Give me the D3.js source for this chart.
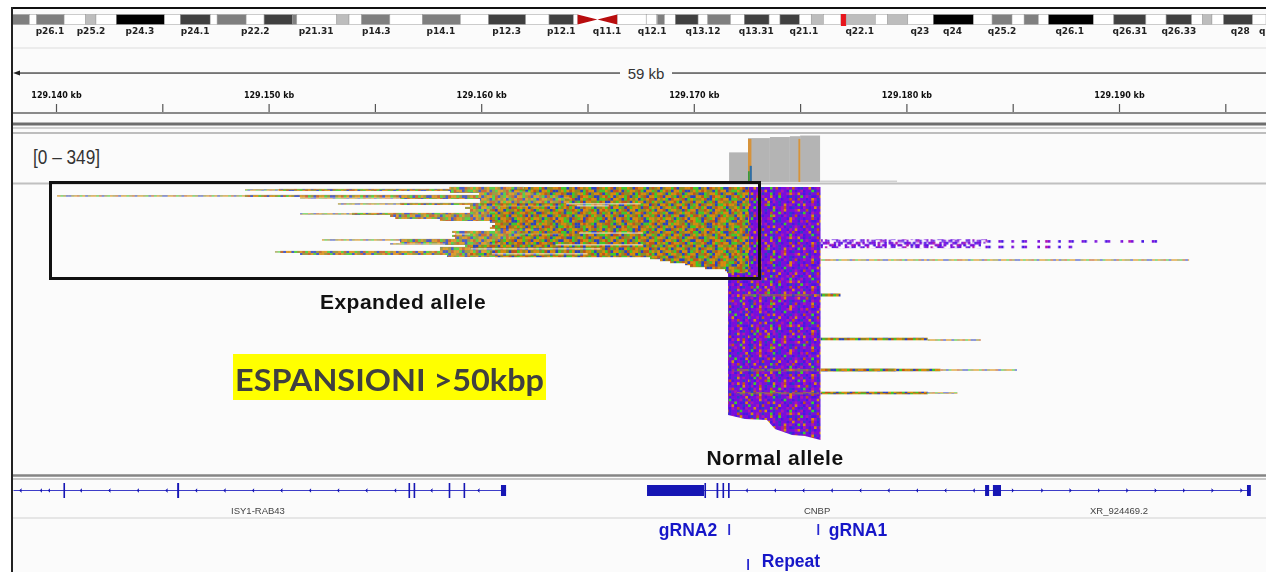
<!DOCTYPE html>
<html><head><meta charset="utf-8">
<script src="https://cdn.jsdelivr.net/npm/d3@7"></script>
<style>html,body{margin:0;padding:0;background:#fff;overflow:hidden}svg{display:block}</style>
</head><body><div id="c"></div>
<script>
// ---------- DATA ----------
// Chromosome 3 cytobands: start, end (Mb), stain code
const bandEdges = [0,2.77,3.95,8.31,11.76,13.39,16.64,24.32,26.86,31.61,32.72,37.34,40.21,44.77,45.42,51.8,53.75,55.77,60.26,65.47,71.52,76.01,81.94,85.65,89.56,90.21];
const bandStains = ["g50","w","g50","w","g25","w","k","w","g75","w","g50","w","g75","g50","w","g25","w","g50","w","g50","w","g75","w","g75","w"];
const qBandEdges = [96.52,101.15,102.76,102.96,104.06,105.8,109.43,110.98,114.6,116.8,120.75,122.49,125.6,127.47,129.41,132.2,133.04,137.69,139.63,142.87,146.94,153.35,156.32,159.49,161.43,163.69,165.31,172.49,175.73,180.84,184.07,188.15,189.89,191.38,193.25,197.85,200];
const qBandStains = ["w","w","w","g50","w","g75","w","g50","w","g75","w","g75","w","g25","w","mark","g25","w","g25","w","k","w","g50","w","g50","w","k","w","g75","w","g75","w","g25","w","g75","w"];
const centromere = [90.21,96.52];
const bandLabels = ["p26.1","p25.2","p24.3","p24.1","p22.2","p21.31","p14.3","p14.1","p12.3","p12.1","q11.1","q12.1","q13.12","q13.31","q21.1","q22.1","q23","q24","q25.2","q26.1","q26.31","q26.33","q28","q"];
const bandLabelMb = [6.06,12.6,20.4,29.2,38.8,48.5,58.1,68.4,78.9,87.6,94.9,102.1,110.2,118.7,126.3,135.2,144.8,150,157.9,168.7,178.3,186.1,195.9,199.4];
// Ruler
const rulerStart = 129140, rulerEnd = 129190;
const rulerTicks = [129140,129145,129150,129155,129160,129165,129170,129175,129180,129185,129190,129195];
const rulerLabel = {129140:"129.140 kb",129150:"129.150 kb",129160:"129.160 kb",129170:"129.170 kb",129180:"129.180 kb",129190:"129.190 kb"};
// Coverage, kb from ruler start: bin start, bin end, depth
const covStart = [31.66,32.55,33.58,34.52,35.0,35.94];
const covEnd   = [32.55,33.58,34.52,35.0,35.94,39.56];
const covDepth = [220,326,334,340,345,11];
const covStripeKb    = [32.55,34.92];
const covStripeWidth = [0.16,0.09];
// Expanded-allele pileup, one entry per row; faint, medium, dense start in kb from ruler start (null = no such segment)
const rowFaint  = [null,8.89,null,null,0.05,11.48,null,null,13.26,null,null,null,null,11.48,null,null,null,null,null,null,null,null,null,18.77,null,null,12.51,null,15.71,null,null,null,10.3,null,null,null,null,null,null,null,null,null,null];
const rowMedium = [18.5,10.49,18.53,19.9,8.89,16.18,19.94,19.94,16.18,19.47,19.24,19.47,19.47,13.92,15.71,15.95,18.06,20.41,20.65,20.51,20.41,20.65,18.63,19.47,18.63,18.77,16.18,16.18,18.3,19.24,18.06,18.06,10.54,11.48,18.39,27.94,28.41,28.88,29.59,29.82,30.53,31.47,31.56];
const rowDense  = [22.0,21.35,22.3,22.77,23.71,24.18,23.94,24.18,19.94,23.71,20.88,20.41,20.65,20.41,20.41,20.41,20.41,20.65,20.65,20.51,20.65,22.77,21.83,23.71,21.83,21.35,20.88,20.41,20.88,19.47,19.47,20.65,20.41,19.47,20.65,27.94,28.41,28.88,29.59,29.82,30.53,31.47,31.56];
const expandedEnd = 32.6;
const streakRow   = [8,9,22.6,28.5,30.5,33];
const streakStart = [24,24.5,24.6,23.5,19.5,20.5];
const streakEnd   = [27.5,26.0,27.6,27.6,25.6,25.0];
// Normal-allele pileup outline: kb, last row
const normalKb     = [31.61,32.41,33.44,33.82,34.62,35.23,35.96];
const normalBottom = [114,116,116.5,121,124,124.5,126.5];
const normalBandRow = [54,91.5,103];
const normalBandKb  = [32.4,31.8,32.0];
const normalBlueStripe = [32.6,56,102];
// Reads running on past the repeat: row, start, end, kind
const tailRow   = [27.2,28.6,29.5,27.2,30.0,36.5,54,76,76.5,91.5,91.5,91.5,103,103];
const tailStart = [35.96,35.96,35.96,43.8,43.5,35.96,35.96,35.96,41.0,35.96,39.5,41.6,35.96,41.0];
const tailEnd   = [43.8,43.5,43.5,52.0,47.8,53.3,36.9,41.0,43.5,39.5,41.6,45.2,41.0,42.4];
const tailKind  = ["sparseP","sparseP","sparseP","sparseQ","sparseQ","faint","dense","medium","faint","dense","medium","faint","medium","faint"];
// Genes, kb from ruler start
const geneSpans = [[-2.0,21.17],[27.8,56.2]];
const exonStart = [0.35,5.7,16.58,16.82,18.47,19.17,20.93,21.0,27.8,30.5,31.07,31.35,31.61,43.7,44.07,56.02];
const exonEnd   = [0.42,5.79,16.64,16.88,18.52,19.23,21.17,21.1,30.48,30.57,31.15,31.42,31.68,43.89,44.45,56.2];
const exonHeight= [15,15,15,15,15,15,11,5,11,15,15,15,15,11,11,11];
const chevLeft  = [-1.67,-0.71,-0.33,1.17,2.51,3.85,5.2,6.59,7.93,9.27,10.6,11.95,13.27,14.6,15.95,17.66,19.87,32.49,33.82,35.15,36.49,37.83,39.16,40.5,41.83,43.17];
const chevRight = [45.01,46.39,47.72,49.06,50.39,51.73,53.06,54.4,55.76];
const geneNames = ["ISY1-RAB43","CNBP","XR_924469.2"];
const geneNameKb= [9.5,35.8,50.0];
// Guide features
const featureNames = ["gRNA2","gRNA1","Repeat"];
const featureKb    = [31.66,35.85,32.55];
// Mismatch texture: codes are the bases/colours seen in the pileup
const tileExpanded = [
"OOBYRGOYYBOROGGBOYRRBYOOGYBBORYGOOBRYGYOROBBGOYR",
"YBBOGOOYRGBYOOYGRBBOROYGBOOYRRGBYOGBOORYYBGGORBO",
"RGOYOBRROYBGGOROYBBYGOORBYOGGRYOBBORGYOOBRYOGOYB",
"OGBBRYOGOBYORBYGOOYRGBOYRGOBYOYBGROOYGBRBOOYRGBO",
"BYOOGRBYYOORGGBYOBROYOGBBRYOGORBYOGGOYBROOGBYRYO",
"GORYBOOGRBBYOGOROYYBGROOBYGGOYBRROBYGOOYRGBOOGYB",
"OYBGOORYBGOORYBBGYOOGRBYOORBGYOOGBRYYOBGROOYBRGO",
"RBOOYGBRGOYBBOORGYBROOGYBBYORGOBYOOGRBYGOYRBOOGY",
"YOGBROOYRBGOGYYORBBOGYROOBGGYRBOOYBGROYOBGYORRBO",
"GBYOORGBOYYRBOOGBYGRBOOYYGROBBOYGORRYBOGOOBYRGOY",
"OORGBYOOGRBYGOBRYOOYBGGOROOYBRGYOBBOGYROYGOOBRYB",
"BYOOYGRBOOBGYORGOBBYROOGBYYOGRBOOGYBRGOOYBRRGOYO",
"ORBGOOYYBRGOOBYYROGBOOYRGBOROYGGBOYRBOOBGYYORGBO",
"YGOBBRYOGOORYBGGOYBROYGOOBRGYOBOYRGGOBYOORBYGOOR",
"OBYRGOOBBYOGRROYBGOOYBRGOYYBOOGRYBBOGOYRGBOOYGRB",
"RGOOYBGYROBOOGYBRYGOBROOYGGRBOYBOORYGBOOYRBGOOYO"];
const tileNormal = [
"VVIMVRVIIVOVBVVIMVGVIVVRMIVVBVVOIVVMRVIVVGIBVVMO",
"IVBVVIMVVOIVRVVIBVVMVIOVVGIVVMBVRIVVOVMIVBVVIGVV",
"VMVIRVVGIVVBMVVIVOVVIMBVRVVGVIIOVMVVBIVRVOVVMIVB",
"VOVVIMVBVRIVVGMVIIBVVRIMVVOIVVBVGVVMIRVVIBVOVVIM",
"RVIBVVOIVMVVIVRVVOIVGVBVVIMVRVIMVVOVIBVVGVRIVVMV",
"VIVMIVVGBVVOMVIVVBVMIRVVOIVVBGVVMIVVRVOIVBVVMVIG",
"MVOVIVBVVRIVMVGVVIOVVIMVBIVVRVIIVOVMVBVVGIVRVVMO",
"VBVGVMVIIVOVVBRVIMVVOIVGVVMIVOVVIBVRVMVVOVIGVVIB",
"VIRVVIVOMBVIVVMVGIVBVVRVOIVVMIBVVRVGVIOVVMBVIVVR",
"OVVMBVIRVIVVGOVIVBVRVMIVVIVBOVMVVIGVRVVOIMVBVVIV",
"VIGVOVVMVBIVMVRVIVVOGIVVMRIVVVBVOVIMVVRGVIVBVOVM",
"BVVIMVIVOVRVIGVBVMVVIOVBVIMVOVRVIVGVMVVBIOVVMRVI",
"VMOVVRBVIVVMIVBVVOIRVMVGIVVBVIOVVMIVRVBVVGIVMOVV",
"IVVBGVIMVVOVIVRVIVMVBOVVIMRVVGVVIBMVOVIVRVVGMIVB",
"VRIVMVVOBVIVGVMVVIOVIRVVIBVMVIOVVBRVMIVVGOVVIMVB",
"MVBVIVVRVIMOVIVVBGVMVIVOVRIVVBMVVGIVOVVMRIVBVVIO"];
const tileSparse = [
"VV.IV..VI.M...VVI.V..VI...VM..V.IV..VV.M..IVV...",
"I.VV...IV.V.VI..MVV.I...VVI.V...VMI..V.VI...IV.V",
".VI..VM.V..IVV.V..I.VV.M...IVV.I..V.I.VVM..V.VI.",
"V..MV.I..VV..I.M.VV..IV.VV..M.I.VV..VI...VMI.V.."];
const tileDashes = ["VI...V...IV....V..MV...I...VI..."];
const codeColors = {O:"#da8a0c",Y:"#8e8a24",B:"#2c42c4",G:"#3ccc2c",R:"#c2521a",V:"#7a10dc",I:"#4a14e2",M:"#b012ac"};

// ---------- CHART ----------
const W=1266,H=572;
const svg=d3.select("#c").append("svg").attr("width",W).attr("height",H).style("font-family","Liberation Sans");
const defs=svg.append("defs");
function blur(id,s){defs.append("filter").attr("id",id).attr("x","-5%").attr("y","-5%").attr("width","110%").attr("height","110%")
  .append("feGaussianBlur").attr("stdDeviation",s);}
blur("soft",0.45);blur("px",0.75);
function tile(id,rows,cell,base){
  const p=defs.append("pattern").attr("id",id).attr("patternUnits","userSpaceOnUse")
    .attr("width",rows[0].length*cell).attr("height",rows.length*cell);
  if(base) p.append("rect").attr("width",rows[0].length*cell).attr("height",rows.length*cell).attr("fill",base);
  rows.forEach((r,j)=>r.split("").forEach((c,i)=>{ if(c!==".") p.append("rect").attr("x",i*cell).attr("y",j*cell).attr("width",cell).attr("height",cell).attr("fill",codeColors[c]);}));
}
tile("texE",tileExpanded,2.75,"#8e8a2c");
tile("texN",tileNormal,2.75,"#7a14d8");
tile("texS",tileSparse,2.2,null);
tile("texD",tileDashes,2.6,null);

svg.append("rect").attr("x",12).attr("y",8).attr("width",W-12).attr("height",H-8).attr("fill","#fbfbfb");

const x=d3.scaleLinear().domain([rulerStart,rulerEnd]).range([56,1119]);
const kb=d=>x(rulerStart+d);
const row=d3.scaleLinear().domain([0,127]).range([187,441]);
const ideo=d3.scaleLinear().domain([0,200]).range([12,1266]);
const stain={w:"#ffffff",g25:"#bdbdbd",g50:"#7f7f7f",g75:"#404040",k:"#000000",mark:"#e8141c"};

// Ideogram
const gI=svg.append("g").attr("filter","url(#soft)");
const bands=[];
bandStains.forEach((s,i)=>bands.push({a:bandEdges[i],b:bandEdges[i+1],s}));
qBandStains.forEach((s,i)=>bands.push({a:qBandEdges[i],b:qBandEdges[i+1],s}));
gI.append("rect").attr("x",ideo(0)).attr("y",14.5).attr("width",W-12).attr("height",10).attr("fill","#fff");
gI.selectAll("rect.b").data(bands).join("rect").attr("class","b")
  .attr("x",d=>ideo(d.a)).attr("y",d=>d.s==="mark"?14:14.5).attr("width",d=>ideo(d.b)-ideo(d.a)).attr("height",d=>d.s==="mark"?12:10)
  .attr("fill",d=>stain[d.s]).attr("stroke",d=>d.s==="mark"?"none":"#999").attr("stroke-width",0.5);
const cm=(centromere[0]+centromere[1])/2;
gI.append("path").attr("fill","#b8090f").attr("d",
  d3.line()([[ideo(centromere[0]),14.5],[ideo(cm),19.5],[ideo(centromere[1]),14.5],[ideo(centromere[1]),24.5],[ideo(cm),19.5],[ideo(centromere[0]),24.5]])+"Z");
gI.selectAll("text").data(bandLabels).join("text").attr("x",(d,i)=>ideo(bandLabelMb[i])).attr("y",34)
  .attr("text-anchor","middle").attr("font-family","DejaVu Sans").attr("font-weight","bold").attr("font-size",9).attr("fill","#222").text(d=>d);

// Dividers
const hLine=(y,c,w)=>svg.append("rect").attr("x",12).attr("y",y-w/2).attr("width",W-12).attr("height",w).attr("fill",c);
hLine(48,"#ececec",2);hLine(124,"#6e6e6e",3);hLine(128,"#c4c4c4",1.5);hLine(133,"#bdbdbd",2);hLine(183.5,"#c0c0c0",2);
hLine(475.5,"#858585",2.5);hLine(479,"#b8b8b8",1.5);hLine(518,"#e6e6e6",2);

// Span ruler
const gS=svg.append("g").attr("filter","url(#soft)");
gS.append("rect").attr("x",16).attr("y",72.3).attr("width",604).attr("height",1.5).attr("fill","#555");
gS.append("rect").attr("x",672).attr("y",72.3).attr("width",W-672).attr("height",1.5).attr("fill","#555");
gS.append("path").attr("d",d3.line()([[13,73],[20,70.5],[20,75.5]])+"Z").attr("fill","#222");
svg.append("text").attr("x",646).attr("y",79).attr("text-anchor","middle").attr("font-size",15).attr("fill","#333").text("59 kb");

// Axis
const gA=svg.append("g").attr("transform","translate(0,113)").attr("filter","url(#soft)");
gA.call(d3.axisTop(x).tickValues(rulerTicks).tickSize(9).tickSizeOuter(0).tickPadding(6).tickFormat(d=>rulerLabel[d]||""));
gA.select(".domain").remove();
gA.selectAll("line").attr("stroke","#555").attr("stroke-width",1.2);
gA.selectAll("text").attr("font-family","DejaVu Sans").attr("font-weight","bold").attr("font-size",8).attr("fill","#111");
gA.append("rect").attr("x",12).attr("y",-1).attr("width",W-12).attr("height",2).attr("fill","#8a8a8a");

// Coverage
const cov=d3.scaleLinear().domain([0,349]).range([182,135]);
const gC=svg.append("g").attr("filter","url(#soft)");
gC.selectAll("rect.c").data(covDepth).join("rect").attr("class","c")
  .attr("x",(d,i)=>kb(covStart[i])).attr("width",(d,i)=>kb(covEnd[i])-kb(covStart[i])).attr("y",d=>cov(d)).attr("height",d=>cov(0)-cov(d))
  .attr("fill",(d,i)=>i===5?"#d0d0d0":"#b4b4b4");
gC.selectAll("rect.s").data(covStripeKb).join("rect").attr("class","s")
  .attr("x",d=>kb(d)).attr("width",(d,i)=>kb(covStripeWidth[i])-kb(0)).attr("y",cov(320)).attr("height",cov(0)-cov(320)).attr("fill","#d6933a");
gC.append("rect").attr("x",kb(32.63)).attr("width",kb(.1)-kb(0)).attr("y",cov(120)).attr("height",cov(0)-cov(120)).attr("fill","#2f6fa8");
gC.append("rect").attr("x",kb(32.55)).attr("width",kb(.08)-kb(0)).attr("y",cov(80)).attr("height",cov(0)-cov(80)).attr("fill","#3a9a3a");
svg.append("text").attr("x",33).attr("y",164).attr("font-size",21).attr("fill","#333").attr("textLength",67).attr("lengthAdjust","spacingAndGlyphs").text("[0 – 349]");

// Pileup
const gP=svg.append("g").attr("filter","url(#px)");
const area=d3.area().x((d,i)=>kb(d)).y0(row(0)).y1((d,i)=>row(normalBottom[i]));
gP.append("path").attr("d",area(normalKb)).attr("fill","url(#texN)");
gP.selectAll("rect.nb").data(normalBandRow).join("rect").attr("class","nb")
  .attr("x",(d,i)=>kb(normalBandKb[i])).attr("width",(d,i)=>kb(35.9)-kb(normalBandKb[i])).attr("y",d=>row(d)-1).attr("height",2.4)
  .attr("fill","url(#texE)").attr("opacity",.55);
gP.append("rect").attr("x",kb(normalBlueStripe[0])).attr("width",2).attr("y",row(normalBlueStripe[1])).attr("height",row(normalBlueStripe[2])-row(normalBlueStripe[1])).attr("fill","#2230d8").attr("opacity",.55);
// tails
const tailStyle={dense:["url(#texE)",3,1],sparseP:["url(#texS)",4.4,1],sparseQ:["url(#texD)",2.6,1],medium:["url(#texE)",2.6,1],faint:["url(#texE)",1.8,.6]};
gP.selectAll("rect.t").data(tailRow).join("rect").attr("class","t")
  .attr("x",(d,i)=>kb(tailStart[i])).attr("width",(d,i)=>kb(tailEnd[i])-kb(tailStart[i]))
  .attr("y",(d,i)=>row(d)-tailStyle[tailKind[i]][1]/2).attr("height",(d,i)=>tailStyle[tailKind[i]][1])
  .attr("fill",(d,i)=>tailStyle[tailKind[i]][0]).attr("opacity",(d,i)=>tailStyle[tailKind[i]][2]);
// expanded rows
const rowH=row(1)-row(0);
rowMedium.forEach((m,i)=>{
  const y=row(i), f=rowFaint[i], d=rowDense[i];
  if(f!==null) gP.append("rect").attr("x",kb(f)).attr("width",kb(m)-kb(f)).attr("y",y).attr("height",1.8).attr("fill","url(#texE)").attr("opacity",.6);
  if(d>m) gP.append("rect").attr("x",kb(m)).attr("width",kb(d)-kb(m)).attr("y",y-.1).attr("height",2.1).attr("fill","url(#texE)").attr("opacity",.85);
  gP.append("rect").attr("x",kb(d)).attr("width",kb(expandedEnd)-kb(d)).attr("y",y).attr("height",rowH+.2).attr("fill","url(#texE)");
});
const gW=svg.append("g").attr("filter","url(#px)");
gW.selectAll("rect").data(streakRow).join("rect")
  .attr("x",(d,i)=>kb(streakStart[i])).attr("width",(d,i)=>kb(streakEnd[i])-kb(streakStart[i]))
  .attr("y",d=>row(d)+.3).attr("height",1.1).attr("fill","#fff").attr("opacity",.75);

// Box and labels
svg.append("rect").attr("x",50.5).attr("y",182.5).attr("width",709).attr("height",96).attr("fill","none").attr("stroke","#111").attr("stroke-width",3);
svg.append("text").attr("x",403).attr("y",309).attr("text-anchor","middle").attr("font-weight","bold").attr("font-size",21).attr("letter-spacing",.5).attr("fill","#111").text("Expanded allele");
svg.append("text").attr("x",775).attr("y",465).attr("text-anchor","middle").attr("font-weight","bold").attr("font-size",21).attr("letter-spacing",.5).attr("fill","#111").text("Normal allele");
svg.append("rect").attr("x",233).attr("y",354).attr("width",313).attr("height",46).attr("fill","#ffff00");
svg.append("text").attr("x",235).attr("y",391).attr("font-family","Lato").attr("font-weight","bold").attr("font-size",31).attr("fill","#404040").attr("textLength",309).attr("lengthAdjust","spacingAndGlyphs").text("ESPANSIONI >50kbp");

// Genes
const gG=svg.append("g").attr("filter","url(#soft)");
const blue="#1414b4", geneY=490.5;
gG.selectAll("line.g").data(geneSpans).join("line").attr("class","g").attr("x1",d=>Math.max(13,kb(d[0]))).attr("x2",d=>kb(d[1])).attr("y1",geneY).attr("y2",geneY).attr("stroke","#3c3cc8").attr("stroke-width",1.2);
gG.selectAll("rect.e").data(exonStart).join("rect").attr("class","e")
  .attr("x",d=>kb(d)).attr("width",(d,i)=>Math.max(1.6,kb(exonEnd[i])-kb(d))).attr("y",(d,i)=>geneY-exonHeight[i]/2).attr("height",(d,i)=>exonHeight[i]).attr("fill",blue);
gG.selectAll("path.l").data(chevLeft).join("path").attr("class","l").attr("d",d=>`M${kb(d)+1},${geneY-1.7}L${kb(d)-.8},${geneY}L${kb(d)+1},${geneY+1.7}`).attr("fill",blue).attr("stroke",blue).attr("stroke-width",.8);
gG.selectAll("path.r").data(chevRight).join("path").attr("class","r").attr("d",d=>`M${kb(d)-1},${geneY-1.7}L${kb(d)+.8},${geneY}L${kb(d)-1},${geneY+1.7}`).attr("fill",blue).attr("stroke",blue).attr("stroke-width",.8);
gG.selectAll("text").data(geneNames).join("text").attr("x",(d,i)=>kb(geneNameKb[i])).attr("y",514).attr("text-anchor","middle").attr("font-size",9.5).attr("fill","#444").text(d=>d);

// gRNA features
const fy=[524,524,559];
svg.selectAll("rect.f").data(featureKb).join("rect").attr("class","f")
  .attr("x",d=>kb(d)-.8).attr("width",1.8).attr("y",(d,i)=>fy[i]).attr("height",11).attr("fill","#2a2ad0");
const fa=[688,858,791], fb=[536,536,567];
svg.selectAll("text.f").data(featureNames).join("text").attr("class","f")
  .attr("x",(d,i)=>fa[i]).attr("y",(d,i)=>fb[i]).attr("text-anchor","middle").attr("font-weight","bold").attr("font-size",17.5).attr("fill","#1616c8").text(d=>d);

// Frame
svg.append("rect").attr("x",11).attr("y",7).attr("width",W-11).attr("height",2).attr("fill","#111");
svg.append("rect").attr("x",11).attr("y",7).attr("width",2).attr("height",H-7).attr("fill","#222");
</script></body></html>
